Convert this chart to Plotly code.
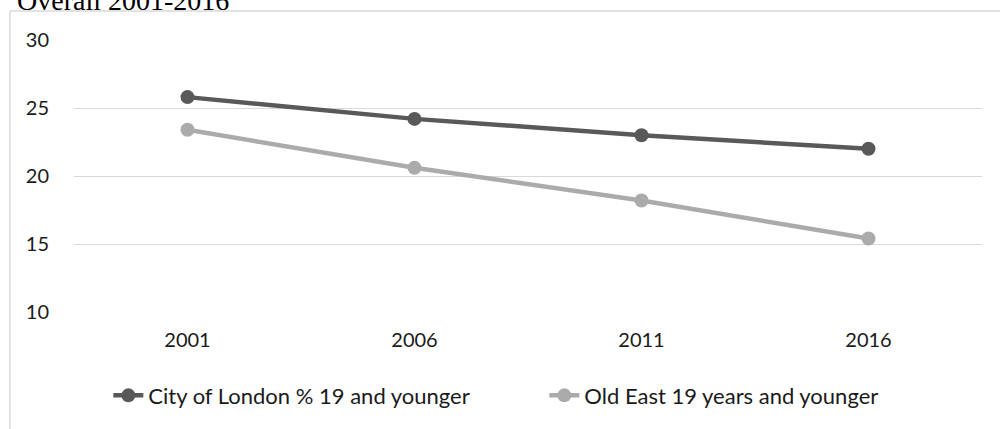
import plotly.graph_objects as go

years = ["2001", "2006", "2011", "2016"]
city = [25.8, 24.2, 23.0, 22.0]
old_east = [23.4, 20.6, 18.2, 15.4]
series_names = ["City of London % 19 and younger", "Old East 19 years and younger"]
title_text = "Overall 2001-2016"

font_family = "Lato, Open Sans, sans-serif"

fig = go.Figure()
fig.add_trace(go.Scatter(x=years, y=city, mode="lines+markers", name=series_names[0],
                         line=dict(color="#595959", width=4.5),
                         marker=dict(color="#595959", size=14)))
fig.add_trace(go.Scatter(x=years, y=old_east, mode="lines+markers", name=series_names[1],
                         line=dict(color="#ABABAB", width=4.5),
                         marker=dict(color="#ABABAB", size=14)))

fig.update_layout(
    width=1000, height=429,
    margin=dict(l=74, r=18, t=40, b=117),
    paper_bgcolor="white", plot_bgcolor="white",
    font=dict(family=font_family, size=20, color="#1a1a1a"),
    showlegend=True,
    legend=dict(orientation="h", x=0.518, xanchor="center", y=-0.23, yanchor="top",
                font=dict(size=22, color="#1a1a1a"), tracegroupgap=0,
                entrywidth=391),
    xaxis=dict(type="category", range=[-0.5, 3.5], showgrid=False, showline=False,
               zeroline=False, ticks="", tickfont=dict(size=20), ticklabelstandoff=14),
    yaxis=dict(range=[10, 30], dtick=5, showgrid=True, gridcolor="#D9D9D9", gridwidth=1.3,
               zeroline=False, showline=False, ticks="", tickfont=dict(size=20),
               ticklabelstandoff=24),
    shapes=[
        dict(type="line", xref="paper", yref="paper", x0=-0.0706, x1=1.02,
             y0=1.107, y1=1.107, line=dict(color="#D9D9D9", width=1.5)),
        dict(type="line", xref="paper", yref="paper", x0=-0.0706, x1=-0.0706,
             y0=1.107, y1=-0.45, line=dict(color="#D9D9D9", width=1.5)),
    ],
    annotations=[
        dict(text=title_text, xref="paper", yref="paper", x=-0.065, y=1.08,
             xanchor="left", yanchor="bottom", showarrow=False,
             font=dict(family="Liberation Serif, Times New Roman, serif", size=28, color="black")),
    ],
)

fig.write_html("out.html")
